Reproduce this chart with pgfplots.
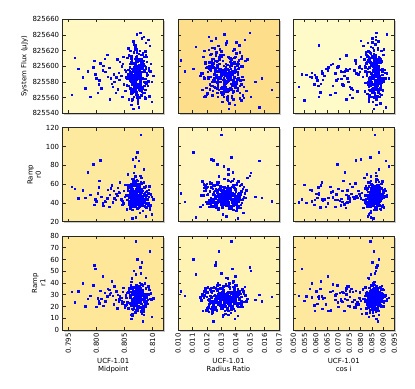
\documentclass[border=0pt]{standalone}
\usepackage{fontspec}
\setmainfont{DejaVu Sans}
\usepackage{pgfplots}
\usepackage{pgfplotstable}
\pgfplotsset{compat=1.18}

% background colours (by panel)
\definecolor{bgAA}{HTML}{FFF8C2}
\definecolor{bgAB}{HTML}{FDDF8B}
\definecolor{bgAC}{HTML}{FFFBC8}
\definecolor{bgBA}{HTML}{FEEA9F}
\definecolor{bgBB}{HTML}{FFF5BC}
\definecolor{bgBC}{HTML}{FEEEAA}
\definecolor{bgCA}{HTML}{FEE799}
\definecolor{bgCB}{HTML}{FFF3B4}
\definecolor{bgCC}{HTML}{FEE89E}

% MCMC samples: midpoint, radius ratio, cos i, system flux, ramp r0, ramp r1
\pgfplotstableread{
mid rp cosi flux rzero rone
0.8075 0.01342 0.0871 825602 38.6 31.2
0.8066 0.01219 0.0849 825571 52.3 22.5
0.8081 0.01297 0.0822 825593 44.1 18.7
0.8069 0.01408 0.0893 825579 61.4 29.9
0.8058 0.01263 0.0736 825614 40.2 35.6
0.8073 0.01371 0.0858 825560 47.8 24.3
0.8090 0.01155 0.0866 825588 35.7 27.8
0.8064 0.01326 0.0805 825597 50.9 13.9
0.8077 0.01452 0.0843 825583 29.4 33.1
0.8070 0.01288 0.0902 825622 45.5 20.6
0.8085 0.01230 0.0611 825575 56.8 28.4
0.8062 0.01386 0.0861 825606 42.7 41.3
0.8071 0.01315 0.0830 825565 48.3 25.0
0.8079 0.01173 0.0878 825591 37.9 16.4
0.8067 0.01404 0.0851 825631 59.2 30.7
0.8055 0.01279 0.0698 825584 43.6 23.6
0.8074 0.01356 0.0887 825553 33.8 36.9
0.8088 0.01247 0.0838 825599 51.7 21.1
0.8068 0.01330 0.0869 825578 44.9 29.2
0.8080 0.01481 0.0815 825609 67.1 26.5
0.8072 0.01208 0.0856 825587 39.3 19.3
0.8061 0.01364 0.0764 825570 46.6 32.6
0.8076 0.01291 0.0907 825596 54.4 24.9
0.8083 0.01402 0.0845 825617 31.5 38.2
0.8065 0.01256 0.0874 825581 48.9 17.6
0.8070 0.01333 0.0581 825592 42.0 28.0
0.8094 0.01190 0.0864 825562 57.6 34.4
0.8059 0.01419 0.0826 825603 36.4 22.8
0.8078 0.01303 0.0897 825589 49.6 27.3
0.8069 0.01238 0.0853 825624 44.3 15.2
0.8073 0.01377 0.0722 825576 63.9 31.8
0.8086 0.01268 0.0880 825594 40.8 25.7
0.8063 0.01345 0.0836 825557 47.2 43.9
0.8075 0.01436 0.0862 825600 34.6 20.3
0.8082 0.01183 0.0910 825585 53.0 29.6
0.8067 0.01320 0.0785 825568 45.8 24.1
0.8071 0.01391 0.0848 825611 38.2 33.7
0.8057 0.01250 0.0873 825590 58.7 18.5
0.8079 0.01339 0.0819 825579 43.0 26.2
0.8092 0.01461 0.0866 825634 50.5 37.0
0.8066 0.01214 0.0644 825597 36.1 22.0
0.8074 0.01308 0.0891 825564 46.0 30.5
0.8069 0.01365 0.0841 825586 62.8 14.6
0.8084 0.01273 0.0868 825607 41.2 27.9
0.8060 0.01412 0.0757 825572 49.9 35.3
0.8077 0.01226 0.0856 825595 37.4 23.4
0.8070 0.01352 0.0884 825582 55.2 28.8
0.8087 0.01299 0.0833 825619 44.7 19.8
0.8064 0.01384 0.0869 825558 32.9 31.4
0.8072 0.01162 0.0917 825591 48.0 25.5
0.8080 0.01329 0.0676 825603 52.6 39.1
0.8068 0.01440 0.0852 825577 40.5 21.7
0.8075 0.01266 0.0876 825598 46.8 27.0
0.8056 0.01347 0.0828 825588 70.3 32.1
0.8083 0.01201 0.0861 825566 38.9 17.3
0.8071 0.01397 0.0800 825612 45.1 24.7
0.8065 0.01283 0.0893 825584 54.9 30.0
0.8078 0.01359 0.0839 825593 36.8 36.2
0.8091 0.01241 0.0865 825575 43.9 22.6
0.8069 0.01423 0.0614 825627 50.1 26.9
0.8062 0.01312 0.0881 825590 41.7 12.8
0.8076 0.01178 0.0847 825561 59.9 33.0
0.8073 0.01368 0.0870 825601 34.2 27.4
0.8085 0.01290 0.0745 825580 47.5 20.9
0.8058 0.01336 0.0858 825596 42.4 31.9
0.8070 0.01473 0.0899 825569 53.7 24.4
0.8082 0.01224 0.0824 825615 39.0 29.3
0.8066 0.01385 0.0867 825587 65.5 18.0
0.8074 0.01302 0.0853 825555 45.3 35.1
0.8097 0.01257 0.0712 825594 37.6 26.1
0.8063 0.01349 0.0886 825583 50.6 22.2
0.8079 0.01414 0.0842 825605 43.3 30.8
0.8072 0.01196 0.0872 825573 56.3 16.9
0.8060 0.01325 0.0557 825589 40.0 28.6
0.8077 0.01379 0.0859 825620 48.6 40.4
0.8089 0.01262 0.0904 825580 35.5 23.8
0.8067 0.01341 0.0832 825597 52.0 27.6
0.8073 0.01448 0.0863 825563 44.5 32.9
0.8081 0.01235 0.0775 825608 61.1 19.5
0.8065 0.01318 0.0877 825585 39.8 25.2
0.8070 0.01393 0.0849 825592 47.0 34.0
0.8054 0.01277 0.0889 825576 33.3 21.4
0.8076 0.01360 0.0818 825600 55.8 29.0
0.8084 0.01211 0.0866 825638 42.9 15.8
0.8068 0.01431 0.0691 825582 49.3 31.1
0.8071 0.01295 0.0855 825567 38.4 24.2
0.8093 0.01353 0.0894 825595 46.3 37.8
0.8061 0.01245 0.0837 825610 58.1 22.7
0.8078 0.01402 0.0873 825578 41.5 28.3
0.8074 0.01309 0.0629 825591 44.0 18.2
0.8066 0.01187 0.0860 825604 52.7 33.5
0.8080 0.01371 0.0882 825571 36.9 26.3
0.8069 0.01284 0.0844 825587 68.6 30.2
0.8087 0.01428 0.0868 825559 43.8 23.1
0.8059 0.01332 0.0793 825599 49.7 27.7
0.8075 0.01229 0.0857 825616 40.7 35.8
0.8072 0.01366 0.0901 825583 54.2 20.0
0.8064 0.01305 0.0831 825593 37.0 25.9
0.8082 0.01457 0.0870 825574 45.9 31.5
0.8070 0.01270 0.0666 825602 51.3 17.0
0.8077 0.01338 0.0854 825589 42.8 29.4
0.8062 0.01206 0.0885 825565 57.3 36.5
0.8090 0.01389 0.0827 825606 39.6 22.3
0.8068 0.01297 0.0863 825580 46.5 27.1
0.8073 0.01418 0.0734 825597 35.0 33.4
0.8057 0.01255 0.0875 825623 52.9 19.1
0.8079 0.01348 0.0846 825586 44.2 25.8
0.8066 0.01169 0.0896 825570 63.2 30.3
0.8085 0.01374 0.0820 825594 40.3 24.6
0.8071 0.01287 0.0861 825612 48.4 38.7
0.8064 0.01434 0.0593 825577 37.8 21.0
0.8076 0.01316 0.0878 825601 55.5 28.2
0.8080 0.01237 0.0840 825563 43.1 16.0
0.8069 0.01357 0.0867 825590 50.8 32.4
0.8095 0.01279 0.0811 825626 34.9 26.7
0.8060 0.01405 0.0851 825584 47.7 23.2
0.8074 0.01222 0.0892 825596 60.4 34.8
0.8067 0.01327 0.0752 825574 41.9 20.4
0.8083 0.01466 0.0858 825607 45.6 29.7
0.8070 0.01261 0.0883 825588 53.4 25.3
0.8058 0.01344 0.0835 825558 38.1 31.6
0.8078 0.01198 0.0872 825599 49.0 18.8
0.8072 0.01383 0.0630 825583 42.2 27.2
0.8088 0.01292 0.0865 825615 57.9 35.5
0.8065 0.01351 0.0843 825569 36.3 22.9
0.8075 0.01413 0.0906 825592 46.9 28.5
0.8081 0.01233 0.0825 825604 40.9 14.2
0.8063 0.01320 0.0871 825581 66.0 31.0
0.8071 0.01395 0.0771 825595 44.8 25.6
0.8086 0.01274 0.0856 825561 51.1 39.9
0.8068 0.01362 0.0890 825610 37.2 21.5
0.8053 0.01180 0.0848 825586 48.7 27.5
0.8076 0.01312 0.0869 825572 43.4 33.2
0.8073 0.01449 0.0700 825600 55.1 19.6
0.8091 0.01264 0.0860 825589 39.7 26.0
0.8066 0.01336 0.0879 825632 46.1 30.6
0.8079 0.01218 0.0833 825577 61.8 23.5
0.8070 0.01399 0.0866 825594 42.6 28.7
0.8061 0.01306 0.0620 825567 35.3 35.0
0.8084 0.01370 0.0852 825603 49.8 17.8
0.8074 0.01252 0.0887 825585 44.6 24.5
0.8067 0.01428 0.0823 825618 58.5 31.3
0.8078 0.01301 0.0868 825574 40.4 27.6
0.8069 0.01355 0.0781 825591 47.3 22.1
0.8093 0.01192 0.0857 825598 53.9 36.1
0.8062 0.01381 0.0899 825580 38.0 20.7
0.8075 0.01285 0.0839 825609 45.0 29.1
0.8072 0.01343 0.0874 825562 64.7 25.4
0.8080 0.01411 0.0717 825593 41.1 32.7
0.8064 0.01243 0.0862 825583 49.4 18.3
0.8070 0.01363 0.0893 825606 36.7 26.4
0.8087 0.01282 0.0845 825570 47.6 30.9
0.8056 0.01335 0.0870 825596 56.0 24.0
0.8077 0.01446 0.0808 825587 43.5 34.6
0.8068 0.01213 0.0859 825621 39.2 21.3
0.8073 0.01328 0.0884 825578 52.2 28.1
0.8082 0.01392 0.0656 825599 45.7 16.6
0.8065 0.01272 0.0850 825566 60.0 33.8
0.8071 0.01349 0.0876 825590 41.4 25.1
0.8089 0.01175 0.0834 825612 48.1 29.5
0.8060 0.01407 0.0865 825582 34.3 22.4
0.8076 0.01314 0.0741 825595 53.6 37.3
0.8069 0.01259 0.0888 825573 44.2 26.6
0.8079 0.01376 0.0847 825604 50.3 19.9
0.8066 0.01298 0.0871 825588 38.6 30.1
0.8074 0.01437 0.0549 825557 59.4 24.8
0.8085 0.01231 0.0861 825601 42.3 27.3
0.8058 0.01358 0.0898 825585 46.4 35.2
0.8072 0.01289 0.0829 825613 55.7 21.8
0.8078 0.01384 0.0873 825576 37.5 28.9
0.8063 0.01204 0.0796 825593 49.2 32.0
0.8081 0.01340 0.0855 825568 43.7 17.4
0.8070 0.01421 0.0880 825598 62.3 26.8
0.8092 0.01276 0.0838 825581 40.1 30.4
0.8067 0.01331 0.0864 825628 47.4 23.7
0.8075 0.01254 0.0687 825591 35.8 29.8
0.8061 0.01396 0.0853 825573 54.5 38.0
0.8083 0.01310 0.0891 825607 44.4 20.2
0.8071 0.01367 0.0842 825584 50.0 27.0
0.8066 0.01225 0.0869 825596 39.4 33.6
0.8077 0.01454 0.0763 825560 57.1 24.2
0.8073 0.01294 0.0858 825589 43.2 18.9
0.8055 0.01352 0.0886 825611 48.2 31.7
0.8086 0.01268 0.0826 825579 36.6 25.7
0.8068 0.01401 0.0866 825594 52.5 28.0
0.8079 0.01323 0.0607 825582 45.4 22.6
0.8070 0.01186 0.0874 825605 59.0 35.4
0.8064 0.01378 0.0849 825567 41.0 26.2
0.8088 0.01285 0.0897 825597 47.1 29.3
0.8074 0.01347 0.0727 825588 38.8 16.2
0.8073 0.01305 0.0860 825593 48.8 27.5
0.8066 0.01378 0.0883 825579 42.9 32.8
0.8080 0.01241 0.0846 825601 55.4 22.2
0.8069 0.01335 0.0868 825571 40.0 29.0
0.8077 0.01420 0.0831 825608 46.1 25.9
0.8060 0.01268 0.0856 825586 51.8 35.0
0.8085 0.01353 0.0879 825596 37.3 20.5
0.8071 0.01200 0.0752 825564 60.7 28.3
0.8064 0.01388 0.0865 825603 44.7 24.0
0.8078 0.01314 0.0892 825583 49.5 31.2
0.8072 0.01265 0.0841 825618 39.1 17.1
0.8090 0.01361 0.0862 825591 53.2 27.8
0.8058 0.01427 0.0675 825575 45.9 33.5
0.8075 0.01292 0.0873 825597 41.8 23.0
0.8068 0.01346 0.0850 825580 58.2 29.4
0.8082 0.01217 0.0888 825605 43.0 26.1
0.8070 0.01382 0.0818 825568 47.9 36.7
0.8063 0.01307 0.0869 825592 36.0 21.6
0.8076 0.01439 0.0859 825610 52.4 28.5
0.8087 0.01255 0.0713 825584 44.6 24.8
0.8067 0.01330 0.0877 825599 39.7 30.8
0.8074 0.01373 0.0836 825562 57.0 19.2
0.8061 0.01228 0.0864 825587 45.1 27.3
0.8079 0.01316 0.0901 825615 50.7 34.1
0.8071 0.01398 0.0844 825576 38.5 22.5
0.8084 0.01281 0.0626 825594 62.1 28.8
0.8065 0.01357 0.0867 825583 46.7 25.3
0.8073 0.01193 0.0881 825606 41.4 32.2
0.8056 0.01340 0.0828 825590 54.6 18.4
0.8078 0.01409 0.0858 825569 43.9 29.6
0.8069 0.01277 0.0795 825600 48.1 26.4
0.8092 0.01334 0.0871 825581 37.7 37.6
0.8062 0.01442 0.0849 825613 59.7 23.3
0.8075 0.01260 0.0885 825588 45.3 28.2
0.8070 0.01319 0.0837 825574 42.3 20.9
0.8081 0.01367 0.0864 825597 51.0 31.4
0.8066 0.01210 0.0740 825585 40.7 26.0
0.8072 0.01390 0.0875 825622 56.2 34.9
0.8086 0.01302 0.0853 825566 44.4 21.2
0.8059 0.01351 0.0896 825594 49.1 28.0
0.8077 0.01236 0.0833 825580 36.5 24.7
0.8068 0.01416 0.0866 825603 63.0 30.0
0.8074 0.01325 0.0596 825589 43.6 16.5
0.8083 0.01271 0.0860 825572 47.7 33.9
0.8063 0.01374 0.0882 825609 41.6 25.5
0.8071 0.01295 0.0845 825591 53.5 27.9
0.8089 0.01406 0.0869 825578 39.3 22.7
0.8067 0.01248 0.0821 825599 48.6 36.4
0.8076 0.01338 0.0857 825586 45.7 25.2
0.8060 0.01183 0.0892 825620 55.9 30.1
0.8052 0.01331 0.0862 825594 47.4 29.7
0.8049 0.01274 0.0718 825577 53.1 24.1
0.8047 0.01405 0.0851 825603 41.6 32.5
0.8051 0.01239 0.0879 825569 59.3 21.0
0.8044 0.01366 0.0637 825588 44.1 27.4
0.8048 0.01300 0.0866 825612 39.5 35.9
0.8041 0.01419 0.0843 825583 50.7 26.3
0.8050 0.01257 0.0769 825596 46.6 19.4
0.8038 0.01344 0.0870 825571 56.4 30.2
0.8045 0.01212 0.0855 825600 42.5 25.0
0.8035 0.01388 0.0602 825586 49.9 33.0
0.8046 0.01318 0.0884 825561 38.3 22.8
0.8042 0.01267 0.0839 825606 61.9 28.6
0.8032 0.01394 0.0744 825580 45.2 37.4
0.8040 0.01328 0.0862 825592 51.4 23.9
0.8029 0.01251 0.0525 825574 40.6 29.1
0.8037 0.01370 0.0873 825609 47.8 18.6
0.8026 0.01296 0.0848 825585 55.6 31.8
0.8034 0.01428 0.0686 825566 43.4 26.0
0.8023 0.01226 0.0867 825598 36.2 34.2
0.8031 0.01355 0.0790 825590 52.8 22.0
0.8019 0.01311 0.0859 825615 44.9 28.8
0.8027 0.01384 0.0621 825578 58.8 41.7
0.8016 0.01262 0.0876 825593 41.0 24.4
0.8024 0.01339 0.0735 825558 48.5 30.5
0.8012 0.01411 0.0852 825601 37.0 20.8
0.8020 0.01280 0.0573 825587 54.0 35.3
0.8009 0.01362 0.0869 825572 46.3 26.7
0.8015 0.01233 0.0707 825610 42.1 31.9
0.8005 0.01349 0.0845 825582 63.5 22.9
0.8011 0.01397 0.0654 825595 39.8 45.6
0.8002 0.01305 0.0878 825566 50.4 27.1
0.8007 0.01245 0.0779 825604 85.6 33.4
0.7998 0.01375 0.0538 825590 44.0 52.0
0.8004 0.01320 0.0861 825577 56.7 24.6
0.7994 0.01271 0.0695 825599 81.2 38.3
0.8000 0.01416 0.0835 825585 41.8 19.7
0.7989 0.01337 0.0612 825561 48.9 29.3
0.7996 0.01259 0.0874 825607 38.1 55.0
0.7985 0.01380 0.0728 825594 72.7 26.5
0.7980 0.01299 0.0856 825572 45.5 20.1
0.7976 0.01354 0.0583 825586 53.3 39.8
0.7968 0.01228 0.0751 825597 44.8 33.1
0.7961 0.01366 0.0868 825611 55.0 23.6
0.7956 0.01302 0.0665 825564 57.4 32.4
0.8101 0.01327 0.0852 825588 44.0 27.0
0.8097 0.01286 0.0871 825603 49.2 31.5
0.8074 0.01582 0.0848 825585 45.8 24.4
0.8069 0.01046 0.0866 825594 41.3 29.0
0.8072 0.01321 0.0915 825641 47.0 26.2
0.8066 0.01350 0.0858 825546 52.6 21.9
0.8079 0.01298 0.0863 825592 112.8 48.2
0.8070 0.01369 0.0842 825578 88.4 75.4
0.8083 0.01244 0.0877 825598 43.1 7.3
0.8064 0.01412 0.0856 825589 23.5 12.0
0.8099 0.01536 0.0895 825580 46.7 25.8
0.8071 0.01019 0.0861 825608 50.5 33.2
0.8076 0.01651 0.0839 825570 42.0 28.1
0.8068 0.01315 0.0924 825585 78.9 27.6
0.8081 0.01263 0.0851 825636 55.3 57.6
0.8062 0.01393 0.0870 825551 38.9 9.5
0.8073 0.01106 0.0880 825597 94.1 60.2
0.8088 0.01334 0.0832 825630 26.0 44.3
0.8067 0.01505 0.0866 825561 72.0 50.6
0.8095 0.01282 0.0858 825593 33.0 67.0
0.8075 0.01562 0.0912 825548 84.6 30.0
0.8070 0.01124 0.0845 825625 24.8 47.4
0.8084 0.01348 0.0880 825612 75.8 13.0
0.8065 0.01229 0.0801 825633 86.7 18.0
0.8078 0.01498 0.0870 825643 68.9 53.5
0.8099 0.01310 0.0837 825555 28.1 11.1
}\samples

\pgfplotsset{
  panel/.style={
    scale only axis, width=101bp, height=94bp, anchor=north west,
    axis background/.style={fill=#1},
    axis line style={black!85, line width=0.8pt},
    tick align=inside, xtick pos=both, ytick pos=both,
    major tick length=3bp, tick style={black!85, line width=0.5pt},
    font=\fontsize{7}{8.4}\selectfont,
    tick label style={font=\fontsize{7}{8.4}\selectfont},
    /pgf/number format/assume math mode=true,
    scaled x ticks=false, scaled y ticks=false,
    x tick label style={rotate=90, anchor=east,
      /pgf/number format/fixed, /pgf/number format/fixed zerofill,
      /pgf/number format/precision=3},
    xlabel style={align=center, yshift=2bp},
    ylabel style={align=center, yshift=-2bp},
  },
  colA/.style={xmin=0.794, xmax=0.812, xtick={0.795,0.8,0.805,0.81}},
  colB/.style={xmin=0.010, xmax=0.017,
    xtick={0.010,0.011,0.012,0.013,0.014,0.015,0.016,0.017}},
  colC/.style={xmin=0.050, xmax=0.095,
    xtick={0.050,0.055,0.060,0.065,0.070,0.075,0.080,0.085,0.090,0.095}},
  rowA/.style={ymin=825540, ymax=825660,
    ytick={825540,825560,825580,825600,825620,825640,825660}},
  rowB/.style={ymin=20, ymax=120, ytick={20,40,60,80,100,120}},
  rowC/.style={ymin=0, ymax=80, ytick={0,10,20,30,40,50,60,70,80}},
  pts/.style={only marks, mark=square*, mark size=0.72bp, color=blue,
    mark options={draw=none, fill=blue}},
}

\newcommand\shadow[2]{%
  \fill[black!22] (#1bp+1.6bp,#2bp-95.6bp) rectangle (#1bp+102.6bp,#2bp-1.6bp);}

\begin{document}
\begin{tikzpicture}
\useasboundingbox (0,0) rectangle (415bp,389bp);

\shadow{62.7}{369.7}\shadow{178}{369.7}\shadow{293.3}{369.7}
\shadow{62.7}{261.3}\shadow{178}{261.3}\shadow{293.3}{261.3}
\shadow{62.7}{153}\shadow{178}{153}\shadow{293.3}{153}

% row 1: system flux
\begin{axis}[panel=bgAA, at={(62.7bp,369.7bp)}, colA, rowA, xticklabels={},
  yticklabels={825540,825560,825580,825600,825620,825640,825660},
  ylabel={System Flux (μJy)}]
\addplot[pts] table[x=mid, y=flux] {\samples};
\end{axis}
\begin{axis}[panel=bgAB, at={(178bp,369.7bp)}, colB, rowA,
  xticklabels={}, yticklabels={}]
\addplot[pts] table[x=rp, y=flux] {\samples};
\end{axis}
\begin{axis}[panel=bgAC, at={(293.3bp,369.7bp)}, colC, rowA,
  xticklabels={}, yticklabels={}]
\addplot[pts] table[x=cosi, y=flux] {\samples};
\end{axis}

% row 2: ramp r0
\begin{axis}[panel=bgBA, at={(62.7bp,261.3bp)}, colA, rowB, xticklabels={},
  ylabel={Ramp\\r0}]
\addplot[pts] table[x=mid, y=rzero] {\samples};
\end{axis}
\begin{axis}[panel=bgBB, at={(178bp,261.3bp)}, colB, rowB,
  xticklabels={}, yticklabels={}]
\addplot[pts] table[x=rp, y=rzero] {\samples};
\end{axis}
\begin{axis}[panel=bgBC, at={(293.3bp,261.3bp)}, colC, rowB,
  xticklabels={}, yticklabels={}]
\addplot[pts] table[x=cosi, y=rzero] {\samples};
\end{axis}

% row 3: ramp r1
\begin{axis}[panel=bgCA, at={(62.7bp,153bp)}, colA, rowC,
  ylabel={Ramp\\r1}, xlabel={UCF-1.01\\Midpoint}]
\addplot[pts] table[x=mid, y=rone] {\samples};
\end{axis}
\begin{axis}[panel=bgCB, at={(178bp,153bp)}, colB, rowC, yticklabels={},
  xlabel={UCF-1.01\\Radius Ratio}]
\addplot[pts] table[x=rp, y=rone] {\samples};
\end{axis}
\begin{axis}[panel=bgCC, at={(293.3bp,153bp)}, colC, rowC, yticklabels={},
  xlabel={UCF-1.01\\cos i}]
\addplot[pts] table[x=cosi, y=rone] {\samples};
\end{axis}
\end{tikzpicture}
\end{document}
